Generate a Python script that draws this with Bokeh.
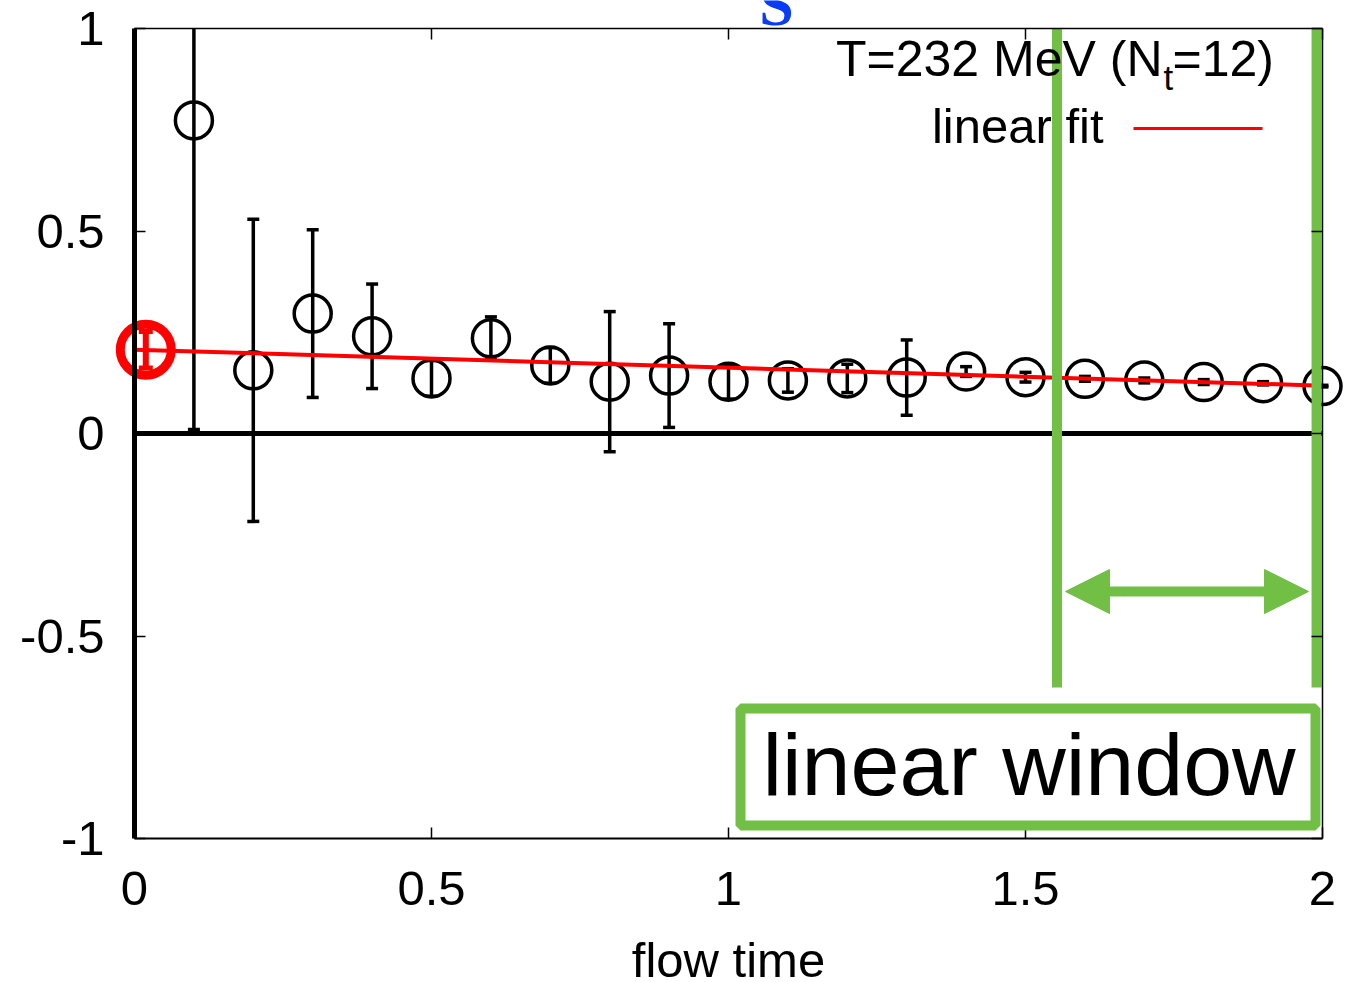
from bokeh.plotting import figure
from bokeh.models import (Label, LinearAxis, FixedTicker, Arrow, NormalHead,
                          BoxAnnotation, ColumnDataSource)
from bokeh.embed import file_html
from bokeh.resources import INLINE

# ---------------- data ----------------
flow_time = [0.1, 0.2, 0.3, 0.4, 0.5, 0.6, 0.7, 0.8, 0.9, 1.0,
             1.1, 1.2, 1.3, 1.4, 1.5, 1.6, 1.7, 1.8, 1.9, 2.0]
ratio = [0.773, 0.156, 0.296, 0.240, 0.136, 0.235, 0.168, 0.128, 0.143, 0.128,
         0.131, 0.136, 0.138, 0.153, 0.139, 0.135, 0.131, 0.127, 0.124, 0.117]
ratio_err = [0.763, 0.373, 0.207, 0.129, 0.044, 0.053, 0.044, 0.173, 0.128, 0.043,
             0.029, 0.035, 0.093, 0.012, 0.012, 0.006, 0.006, 0.006, 0.004, 0.002]

extrap_time = [0.019]
extrap_val = [0.207]
extrap_err = [0.045]

fit_time = [0.0, 2.0]
fit_val = [0.207, 0.118]

x_ticks = [0, 0.5, 1, 1.5, 2]
x_tick_labels = ["0", "0.5", "1", "1.5", "2"]
y_ticks = [-1, -0.5, 0, 0.5, 1]
y_tick_labels = ["-1", "-0.5", "0", "0.5", "1"]
x_bounds = (0, 2)
y_bounds = (-1, 1)

window_edges = [1.553, 1.990]
legend_title = "T=232 MeV (N"
legend_sub = "t"
legend_tail = "=12)"
fit_label = "linear fit"
window_label = "linear window"
x_label = "flow time"
title_fragment = "S"

# ---------------- layout ----------------
W, H = 1367, 982
FL, FR, FT, FB = 134, 1322, 28, 838      # pixel box of the axes (x 0..2, y -1..1)
FONT = "Liberation Sans"
FS = "49px"
GREEN = "#71bf44"
RED = "#ff0000"
PXU = (FR - FL) / 2.0                     # pixels per x unit
PYU = (FB - FT) / 2.0                     # pixels per y unit
BASE_SHIFT = 0.375                        # label baseline correction (em)
NAN = float("nan")


def dx(px):
    return (px - FL) / PXU


def dy(py):
    return 1.0 - (py - FT) / PYU


def by(py, fs):
    # data y for a label whose visible baseline should sit at pixel row py
    return dy(py - BASE_SHIFT * fs)


# the drawing frame covers the whole canvas; the axes sit at fixed locations
p = figure(width=W, height=H, x_range=(dx(0), dx(W)), y_range=(dy(H), dy(0)),
           output_backend="svg", toolbar_location=None,
           min_border_left=0, min_border_right=0, min_border_top=0, min_border_bottom=0)
p.title.visible = False
p.grid.visible = False
p.outline_line_color = None
p.background_fill_color = "white"
p.border_fill_color = "white"


def style_axis(ax, lw):
    ax.major_tick_in = 11
    ax.major_tick_out = 0
    ax.minor_tick_in = 0
    ax.minor_tick_out = 0
    ax.major_tick_line_width = 1.5
    ax.major_tick_line_color = "black"
    ax.axis_line_width = lw
    ax.axis_line_color = "black"
    ax.major_label_text_font = FONT
    ax.major_label_text_font_size = FS
    ax.major_label_text_color = "black"


xa = p.xaxis[0]
xa.ticker = FixedTicker(ticks=x_ticks, minor_ticks=[])
xa.bounds = x_bounds
xa.fixed_location = y_bounds[0]
style_axis(xa, 2)
xa.major_label_overrides = dict(zip(x_ticks, x_tick_labels))
xa.major_label_standoff = 33

ya = p.yaxis[0]
ya.ticker = FixedTicker(ticks=y_ticks, minor_ticks=[])
ya.bounds = y_bounds
ya.fixed_location = x_bounds[0]
style_axis(ya, 5)
ya.major_label_overrides = dict(zip(y_ticks, y_tick_labels))
ya.major_label_standoff = 30

top = LinearAxis(ticker=FixedTicker(ticks=x_ticks, minor_ticks=[]), bounds=x_bounds,
                 fixed_location=y_bounds[1])
style_axis(top, 1.5)
top.major_label_text_color = None
p.add_layout(top, "above")

right = LinearAxis(ticker=FixedTicker(ticks=y_ticks, minor_ticks=[]), bounds=y_bounds,
                   fixed_location=x_bounds[1])
style_axis(right, 1.5)
right.major_label_text_color = None
p.add_layout(right, "right")

# x axis title
p.add_layout(Label(x=1.0, y=by(978, 49), text=x_label, text_align="center",
                   text_baseline="alphabetic", text_font=FONT, text_font_size=FS,
                   text_color="black"))

# zero line
p.segment(x0=[x_bounds[0]], x1=[x_bounds[1]], y0=[0], y1=[0], line_color="black",
          line_width=5)

# data points (error bars cut at the plot box, as in the original)
lo_raw = [v - e for v, e in zip(ratio, ratio_err)]
hi_raw = [v + e for v, e in zip(ratio, ratio_err)]
lo = [max(a, y_bounds[0]) for a in lo_raw]
hi = [min(a, y_bounds[1]) for a in hi_raw]
lo_cap = [a if a >= y_bounds[0] else NAN for a in lo_raw]
hi_cap = [a if a <= y_bounds[1] else NAN for a in hi_raw]
src = ColumnDataSource(dict(t=flow_time, v=ratio, lo=lo, hi=hi, lc=lo_cap, hc=hi_cap))
p.segment(x0="t", x1="t", y0="lo", y1="hi", source=src, line_color="black", line_width=3.5)
p.scatter(x="t", y="lc", source=src, marker="dash", size=12, line_color="black", line_width=3.5)
p.scatter(x="t", y="hc", source=src, marker="dash", size=12, line_color="black", line_width=3.5)
p.scatter(x="t", y="v", source=src, marker="circle", size=37, fill_color=None,
          line_color="black", line_width=3.5)

# linear fit
p.line(fit_time, fit_val, line_color=RED, line_width=4)

# extrapolated point
elo = [v - e for v, e in zip(extrap_val, extrap_err)]
ehi = [v + e for v, e in zip(extrap_val, extrap_err)]
esrc = ColumnDataSource(dict(t=extrap_time, v=extrap_val, lo=elo, hi=ehi))
p.segment(x0="t", x1="t", y0="lo", y1="hi", source=esrc, line_color=RED, line_width=6)
p.scatter(x="t", y="lo", source=esrc, marker="dash", size=14, line_color=RED, line_width=5)
p.scatter(x="t", y="hi", source=esrc, marker="dash", size=14, line_color=RED, line_width=5)
p.scatter(x="t", y="v", source=esrc, marker="circle", size=51, fill_color=None,
          line_color=RED, line_width=9)

# legend (gnuplot style: text then sample on the right)
p.add_layout(Label(x=dx(1162), y=by(77, 50), text=legend_title, text_align="right",
                   text_baseline="alphabetic", text_font=FONT, text_font_size="50px",
                   text_color="black"))
p.add_layout(Label(x=dx(1163), y=by(90, 35), text=legend_sub, text_align="left",
                   text_baseline="alphabetic", text_font=FONT, text_font_size="35px",
                   text_color="black"))
p.add_layout(Label(x=dx(1172), y=by(77, 50), text=legend_tail, text_align="left",
                   text_baseline="alphabetic", text_font=FONT, text_font_size="50px",
                   text_color="black"))
p.add_layout(Label(x=dx(1103), y=by(144, 49), text=fit_label, text_align="right",
                   text_baseline="alphabetic", text_font=FONT, text_font_size=FS,
                   text_color="black"))
p.segment(x0=[dx(1133)], x1=[dx(1262)], y0=[dy(128)], y1=[dy(128)],
          line_color=RED, line_width=3)

# green window markers
p.segment(x0=window_edges, x1=window_edges, y0=[1, 1], y1=[dy(687)] * 2,
          line_color=GREEN, line_width=10, line_cap="butt")
p.add_layout(Arrow(x_start=dx(1065), y_start=dy(591), x_end=dx(1308), y_end=dy(591),
                   line_color=GREEN, line_width=10,
                   start=NormalHead(size=44, fill_color=GREEN, line_color=GREEN, line_width=1),
                   end=NormalHead(size=44, fill_color=GREEN, line_color=GREEN, line_width=1)))

p.add_layout(BoxAnnotation(left=dx(740), right=dx(1315), top=dy(708), bottom=dy(825),
                           fill_color="white", fill_alpha=1.0, line_color=GREEN,
                           line_alpha=1.0, line_width=10, level="overlay"))
p.add_layout(Label(x=dx(762), y=by(797, 88), text=window_label, text_align="left",
                   text_baseline="alphabetic", text_font=FONT, text_font_size="88px",
                   text_color="black", level="overlay"))

# cropped blue title glyph at the very top
p.add_layout(Label(x=dx(776), y=by(27, 62), text=title_fragment, text_align="center",
                   text_baseline="alphabetic", text_font="Liberation Serif",
                   text_font_size="62px", text_font_style="bold", text_color="#0a3cf5"))

open("out.html", "w").write(file_html(p, INLINE))
